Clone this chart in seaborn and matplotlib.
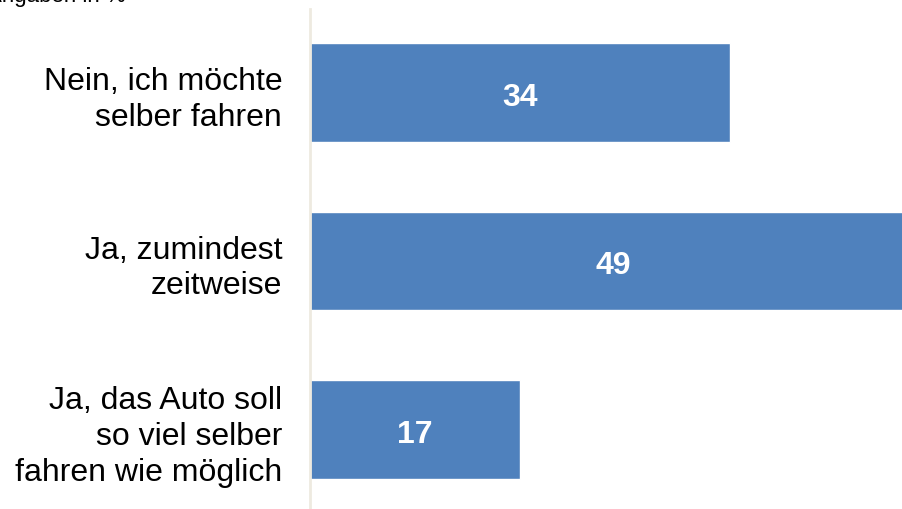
import pandas as pd
import seaborn as sns
import matplotlib.pyplot as plt

# Daten
antworten = ['Nein, ich möchte\nselber fahren',
             'Ja, zumindest\nzeitweise',
             'Ja, das Auto soll\nso viel selber\nfahren wie möglich']
werte = [34, 49, 17]

df = pd.DataFrame({'antwort': antworten, 'wert': werte})

sns.set_style('white')
plt.rcParams['font.family'] = ['Liberation Sans', 'DejaVu Sans']

fig = plt.figure(figsize=(9.02, 5.10), dpi=100)
ax = fig.add_axes([310 / 902, 0, 1 - 310 / 902, 500 / 510])

sns.barplot(data=df, x='wert', y='antwort', orient='h', color='#4F81BD',
            saturation=1, width=0.587, ax=ax)

# Wertebeschriftung in der Mitte des Balkens
for i, v in enumerate(werte):
    ax.text(v / 2, i + 0.025, f'{v}', ha='center', va='center', color='white',
            fontsize=23, fontweight='bold')

ax.set_xlim(0, 47.9)
ax.set_ylim(2.472, -0.496)
ax.set_xlabel('')
ax.set_ylabel('')
ax.set_xticks([])
ax.tick_params(axis='y', length=0, pad=20, labelsize=23, labelcolor='black')
for t in ax.get_yticklabels():
    t.set_multialignment('right')
    t.set_linespacing(1.25)

for s in ['top', 'right', 'bottom']:
    ax.spines[s].set_visible(False)
ax.spines['left'].set_color('#EEEAE0')
ax.spines['left'].set_linewidth(2)

fig.text(-13 / 902, 1 - 2 / 510, 'Angaben in %', fontsize=16, color='black',
         ha='left', va='baseline')

plt.savefig('out.png', dpi=100)
plt.close()
